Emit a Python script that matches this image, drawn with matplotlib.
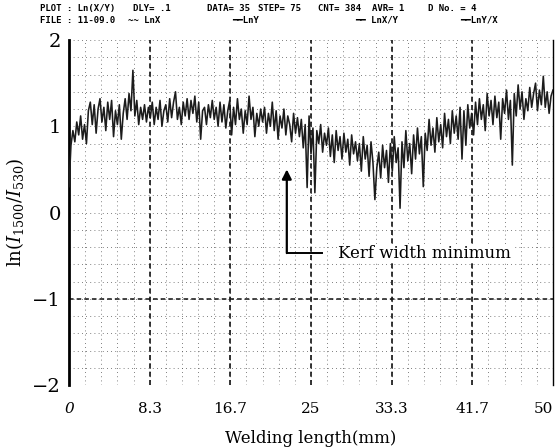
import matplotlib
matplotlib.use("Agg")
import matplotlib.pyplot as plt
import numpy as np

# ln(I1500/I530) sampled every 0.2 mm along the weld
step_mm = 0.2
ln_ratio = [
    0.30, 0.78, 0.95, 0.82, 1.05, 0.90, 1.12, 0.85, 1.02, 0.80,
    1.18, 1.28, 1.02, 1.25, 0.92, 1.20, 1.32, 1.05, 1.22, 0.95,
    1.28, 1.08, 1.30, 0.88, 1.18, 1.02, 1.25, 0.85, 1.15, 1.32,
    1.08, 1.38, 1.18, 1.65, 1.12, 1.30, 1.02, 1.22, 1.08, 1.25,
    1.05, 1.22, 1.10, 1.28, 1.02, 1.22, 1.08, 1.30, 1.00, 1.18,
    1.25, 1.05, 1.32, 1.10, 1.28, 1.40, 1.08, 1.22, 1.02, 1.28,
    1.12, 1.32, 1.08, 1.30, 1.15, 1.35, 1.05, 1.28, 0.85, 1.18,
    1.22, 1.02, 1.25, 1.10, 1.30, 1.08, 1.22, 1.00, 1.28, 1.05,
    1.25, 0.98, 1.18, 1.30, 0.90, 1.22, 1.02, 1.32, 1.08, 1.20,
    0.92, 1.18, 1.02, 1.35, 1.08, 1.22, 0.88, 1.15, 1.00, 1.20,
    1.05, 1.22, 0.92, 1.15, 1.00, 1.28, 0.95, 1.18, 0.85, 1.12,
    0.98, 1.20, 0.90, 1.12, 1.02, 0.82, 1.15, 0.92, 1.10, 0.88,
    1.08, 0.75, 1.02, 0.29, 1.12, 0.68, 0.98, 0.23, 0.95, 0.80,
    1.02, 0.70, 0.92, 0.78, 0.98, 0.65, 0.90, 0.58, 0.95, 0.72,
    0.88, 0.62, 0.92, 0.70, 0.85, 0.55, 0.90, 0.68, 0.82, 0.60,
    0.80, 0.48, 0.88, 0.62, 0.78, 0.42, 0.82, 0.58, 0.15, 0.52,
    0.70, 0.40, 0.78, 0.52, 0.72, 0.35, 0.80, 0.48, 0.88, 0.58,
    0.75, 0.05, 0.82, 0.52, 0.95, 0.60, 0.80, 0.45, 0.90, 0.62,
    0.98, 0.68, 0.88, 0.30, 0.92, 0.72, 1.08, 0.78, 0.98, 0.70,
    1.10, 0.82, 1.02, 0.75, 1.15, 0.88, 1.08, 0.80, 1.18, 0.92,
    1.12, 0.85, 1.22, 0.62, 1.18, 0.78, 1.25, 0.98, 1.15, 0.90,
    1.28, 1.02, 1.32, 1.08, 1.25, 0.95, 1.38, 1.12, 1.30, 1.02,
    1.35, 1.10, 1.28, 0.85, 1.32, 1.15, 1.42, 1.08, 1.30, 0.55,
    1.38, 1.12, 1.48, 1.20, 1.40, 1.08, 1.32, 1.18, 1.45, 1.22,
    1.38, 1.50, 1.18, 1.42, 1.25, 1.58, 1.22, 1.40, 1.15, 1.35, 1.42,
]
x_ticks = [0, 50 / 6, 100 / 6, 25, 200 / 6, 250 / 6, 50]
x_tick_labels = ["0", "8.3", "16.7", "25", "33.3", "41.7", "50"]
y_ticks = [-2, -1, 0, 1, 2]
y_tick_labels = ["\u22122", "\u22121", "0", "1", "2"]

header_1 = [("PLOT : Ln(X/Y)", 0.072), ("DLY= .1", 0.238), ("DATA= 35", 0.371),
            ("STEP= 75", 0.462), ("CNT= 384", 0.570), ("AVR= 1", 0.667),
            ("D No. = 4", 0.767)]
header_2 = [("FILE : 11-09.0", 0.072), ("~~ LnX", 0.229), ("\u2501\u2501LnY", 0.416),
            ("\u2501\u2501 LnX/Y", 0.636), ("\u2501\u2501LnY/X", 0.824)]

# annotation geometry (data units)
arrow_x, arrow_tip_y, corner_y, elbow_end_x, note_x = 22.5, 0.5, -0.47, 26.1, 27.8

plt.rcParams["font.family"] = "DejaVu Serif"
plt.rcParams["mathtext.fontset"] = "dejavuserif"

fig = plt.figure(figsize=(5.58, 4.48), dpi=100)
ax = fig.add_axes([0.1237, 0.1406, 0.8673, 0.770])

x = np.arange(len(ln_ratio)) * step_mm
x[-1] = 50
ax.plot(x, ln_ratio, color="#1c1c1c", lw=1.15, zorder=3)

# fine dotted grid
for gx in np.arange(0, 50.01, 50 / 30):
    ax.axvline(gx, color="#555555", lw=0.6, ls=(0, (1, 4)), zorder=1)
for gy in np.arange(-2, 2.01, 0.2):
    ax.axhline(gy, color="#555555", lw=0.6, ls=(0, (1, 4)), zorder=1)
# heavy dashed lines
for gx in x_ticks[1:-1]:
    ax.axvline(gx, color="#111111", lw=1.2, ls=(0, (3, 2)), zorder=2)
ax.axhline(-1, color="#111111", lw=1.1, ls=(0, (3, 2)), zorder=2)

ax.set_xlim(0, 50)
ax.set_ylim(-2, 2)
ax.set_xticks(x_ticks)
ax.set_xticklabels(x_tick_labels, fontsize=11)
xlabels = ax.get_xticklabels()
xlabels[0].set_style("italic")
xlabels[-1].set_horizontalalignment("right")
ax.set_yticks(y_ticks)
ax.set_yticklabels(y_tick_labels, fontsize=14)
ax.tick_params(length=0, pad=6)
ax.tick_params(axis="x", pad=12)
ax.spines["top"].set_visible(False)
ax.spines["bottom"].set_visible(False)
ax.spines["left"].set_linewidth(2.0)
ax.spines["right"].set_linewidth(1.0)

ax.set_xlabel("Welding length(mm)", fontsize=12, labelpad=10)
ax.set_ylabel(r"$\mathrm{ln}(I_{1500}/I_{530})$", fontsize=13, labelpad=4)

ax.annotate("", xy=(arrow_x, arrow_tip_y), xytext=(arrow_x, corner_y),
            arrowprops=dict(arrowstyle="-|>", color="black", lw=1.6,
                            mutation_scale=14, shrinkA=0, shrinkB=0), zorder=4)
ax.plot([arrow_x, elbow_end_x], [corner_y, corner_y], color="black", lw=1.4, zorder=4)
ax.text(note_x, corner_y, "Kerf width minimum", fontsize=12, va="center", ha="left",
        zorder=4, bbox=dict(facecolor="white", edgecolor="none", pad=0.5))

for txt, fx in header_1:
    fig.text(fx, 0.982, txt, family="DejaVu Sans Mono", weight="bold", fontsize=6.5,
             va="center")
for txt, fx in header_2:
    fig.text(fx, 0.955, txt, family="DejaVu Sans Mono", weight="bold", fontsize=6.5,
             va="center")

fig.savefig("out.png", dpi=100)
